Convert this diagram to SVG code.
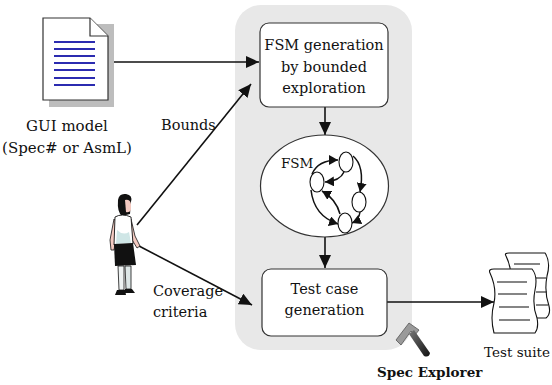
<svg xmlns="http://www.w3.org/2000/svg" width="552" height="385" viewBox="0 0 552 385">
  <defs>
    <style>
      text { font-family: "DejaVu Serif", serif; font-size: 14.5px; fill: #111; }
      .mid { text-anchor: middle; }
      .box { fill: #fff; stroke: #333; stroke-width: 1.2; }
      .conn { fill: none; stroke: #111; stroke-width: 1.6; }
      .fsm { fill: none; stroke: #111; stroke-width: 1.5; }
      .st { fill: #fff; stroke: #111; stroke-width: 1.1; }
      .docline { stroke: #2b2bb0; stroke-width: 2; }
      .pgline { stroke: #222; stroke-width: 1.1; }
    </style>
    <marker id="arrow" markerUnits="userSpaceOnUse" markerWidth="14" markerHeight="12" refX="13" refY="6" orient="auto">
      <path d="M0,0 L13,6 L0,12 Z" fill="#111"/>
    </marker>
    <marker id="tip" markerUnits="userSpaceOnUse" markerWidth="10" markerHeight="10" refX="9" refY="5" orient="auto">
      <path d="M0,0 L9,5 L0,10 Z" fill="#111"/>
    </marker>
    <linearGradient id="handle" x1="0" y1="0" x2="1" y2="1">
      <stop offset="0" stop-color="#777"/>
      <stop offset="1" stop-color="#111"/>
    </linearGradient>
  </defs>

  <!-- rounded panel around the tool's steps -->
  <g id="spec-explorer-panel">
    <rect x="235" y="5" width="177" height="345" rx="26" ry="26" fill="#e8e8e8"/>
  </g>

  <!-- connectors -->
  <g id="connectors">
    <line class="conn" x1="105" y1="62" x2="259" y2="62" marker-end="url(#arrow)"/>
    <line class="conn" x1="137" y1="225" x2="251" y2="84" marker-end="url(#arrow)"/>
    <line class="conn" x1="139" y1="246" x2="252" y2="305" marker-end="url(#arrow)"/>
    <line class="conn" x1="325" y1="107" x2="325" y2="135" marker-end="url(#arrow)"/>
    <line class="conn" x1="325" y1="237" x2="325" y2="268" marker-end="url(#arrow)"/>
    <line class="conn" x1="387" y1="302" x2="494" y2="302" marker-end="url(#arrow)"/>
  </g>

  <!-- model document with drop shadow -->
  <g id="gui-model">
    <path d="M49,24 L114,24 L114,107 L49,107 Z" fill="#bdbdbd"/>
    <path d="M43,18 L90,18 L108,36 L108,100 L43,100 Z" fill="#fff" stroke="#333" stroke-width="1.2"/>
    <path d="M90,18 L90,36 L108,36" fill="#fff" stroke="#333" stroke-width="1.2"/>
    <line class="docline" x1="54" y1="42" x2="95" y2="42"/>
    <line class="docline" x1="54" y1="49" x2="95" y2="49"/>
    <line class="docline" x1="54" y1="56" x2="95" y2="56"/>
    <line class="docline" x1="54" y1="63" x2="95" y2="63"/>
    <line class="docline" x1="54" y1="70" x2="95" y2="70"/>
    <line class="docline" x1="54" y1="78" x2="95" y2="78"/>
    <line class="docline" x1="54" y1="85" x2="95" y2="85"/>
    <text class="mid" x="67" y="131" style="font-size:15px">GUI model</text>
    <text class="mid" x="67" y="153" style="font-size:15px">(Spec# or AsmL)</text>
  </g>

  <!-- tester figure -->
  <g id="tester">
    <path d="M118,200 Q119,193 126,194 Q133,195 131,202 L130,214 L122,216 Q117,212 118,200 Z" fill="#111"/>
    <path d="M125,200 Q130,199 131,204 L131,210 Q129,213 126,212 Z" fill="#f3c9c0"/>
    <path d="M114,219 L110,240 L111,250 L114,250 L116,238 L118,224 Z" fill="#f3c9c0" stroke="#111" stroke-width="0.8"/>
    <path d="M131,219 L135,236 L140,246 L137,248 L131,238 L128,224 Z" fill="#f3c9c0" stroke="#111" stroke-width="0.8"/>
    <path d="M115,217 Q122,213 131,217 L133,244 L114,245 Z" fill="#fff" stroke="#111" stroke-width="0.9"/>
    <path d="M117,230 Q123,236 129,232 L131,243 L116,244 Z" fill="#cfe6e6"/>
    <path d="M114,244 L133,243 L136,265 L115,266 Z" fill="#111"/>
    <path d="M118,266 L124,266 L124,290 L119,290 Z" fill="#eef2f2" stroke="#111" stroke-width="0.8"/>
    <path d="M125,266 L131,266 L131,289 L126,289 Z" fill="#dde6e6" stroke="#111" stroke-width="0.8"/>
    <path d="M117,290 L125,290 L126,295 L115,295 Z" fill="#111"/>
    <path d="M125,289 L132,289 L135,293 L125,293 Z" fill="#111"/>
  </g>

  <text x="161" y="130">Bounds</text>
  <text x="153" y="296">Coverage</text>
  <text x="153" y="317">criteria</text>

  <!-- exploration step -->
  <g id="fsm-generation">
    <rect class="box" x="260" y="23" width="128" height="84" rx="9" ry="9"/>
    <text class="mid" x="324" y="50">FSM generation</text>
    <text class="mid" x="324" y="71.5">by bounded</text>
    <text class="mid" x="324" y="93">exploration</text>
  </g>

  <!-- state machine sketch -->
  <g id="fsm">
    <ellipse class="box" cx="324.5" cy="186" rx="64" ry="51"/>
    <text x="281" y="168" style="font-size:13.5px">FSM</text>
    <path class="fsm" d="M312,174 Q318,160 338,160" marker-end="url(#tip)"/>
    <path class="fsm" d="M344,172 Q340,181 325,182" marker-end="url(#tip)"/>
    <path class="fsm" d="M353,156 Q365,166 360,192" marker-end="url(#tip)"/>
    <path class="fsm" d="M360,212 Q359,220 352,223" marker-end="url(#tip)"/>
    <path class="fsm" d="M311,190 Q314,216 338,224" marker-end="url(#tip)"/>
    <path class="fsm" d="M340,214 Q336,199 322,191" marker-end="url(#tip)"/>
    <ellipse class="st" cx="346" cy="162" rx="7" ry="10"/>
    <ellipse class="st" cx="317" cy="182" rx="7" ry="10"/>
    <ellipse class="st" cx="359" cy="202" rx="7" ry="10"/>
    <ellipse class="st" cx="345" cy="223" rx="7" ry="10"/>
  </g>

  <!-- generation step -->
  <g id="test-case-generation">
    <rect class="box" x="262" y="269" width="125" height="67" rx="9" ry="9"/>
    <text class="mid" x="324.5" y="294">Test case</text>
    <text class="mid" x="324.5" y="315">generation</text>
  </g>

  <!-- stacked pages -->
  <g id="test-suite">
    <path d="M506,256 Q504,253 509,253 L545,253 Q551,262 547,276 Q544,292 549,306 Q551,314 546,318 L510,318 Q506,300 510,285 Q513,270 506,256 Z" fill="#fff" stroke="#111" stroke-width="1.1"/>
    <line class="pgline" x1="514" y1="264" x2="540" y2="264"/>
    <line class="pgline" x1="536" y1="278" x2="546" y2="278"/>
    <line class="pgline" x1="536" y1="292" x2="547" y2="292"/>
    <line class="pgline" x1="536" y1="305" x2="548" y2="305"/>
    <path d="M490,273 Q488,269 494,269 L532,269 Q538,276 535,290 Q532,305 537,318 Q539,328 535,333 L494,333 Q490,318 494,303 Q497,288 490,273 Z" fill="#fff" stroke="#111" stroke-width="1.1"/>
    <line class="pgline" x1="497" y1="282" x2="527" y2="282"/>
    <line class="pgline" x1="498" y1="294" x2="527" y2="294"/>
    <line class="pgline" x1="499" y1="307" x2="529" y2="307"/>
    <line class="pgline" x1="499" y1="320" x2="530" y2="320"/>
    <text x="550" y="357" style="text-anchor:end;font-size:13.5px">Test suite</text>
  </g>

  <!-- hammer mark and tool name -->
  <g id="spec-explorer">
    <path d="M396,340 L409,323 L419,330 L415,335 L411,331 L401,345 Z" fill="#9a9a9a" stroke="#555" stroke-width="0.8"/>
    <path d="M409,334 L414,330 L430,353 Q429,358 424,356 Z" fill="url(#handle)"/>
    <text x="377" y="377" style="font-weight:bold;font-size:13.5px">Spec Explorer</text>
  </g>
</svg>
